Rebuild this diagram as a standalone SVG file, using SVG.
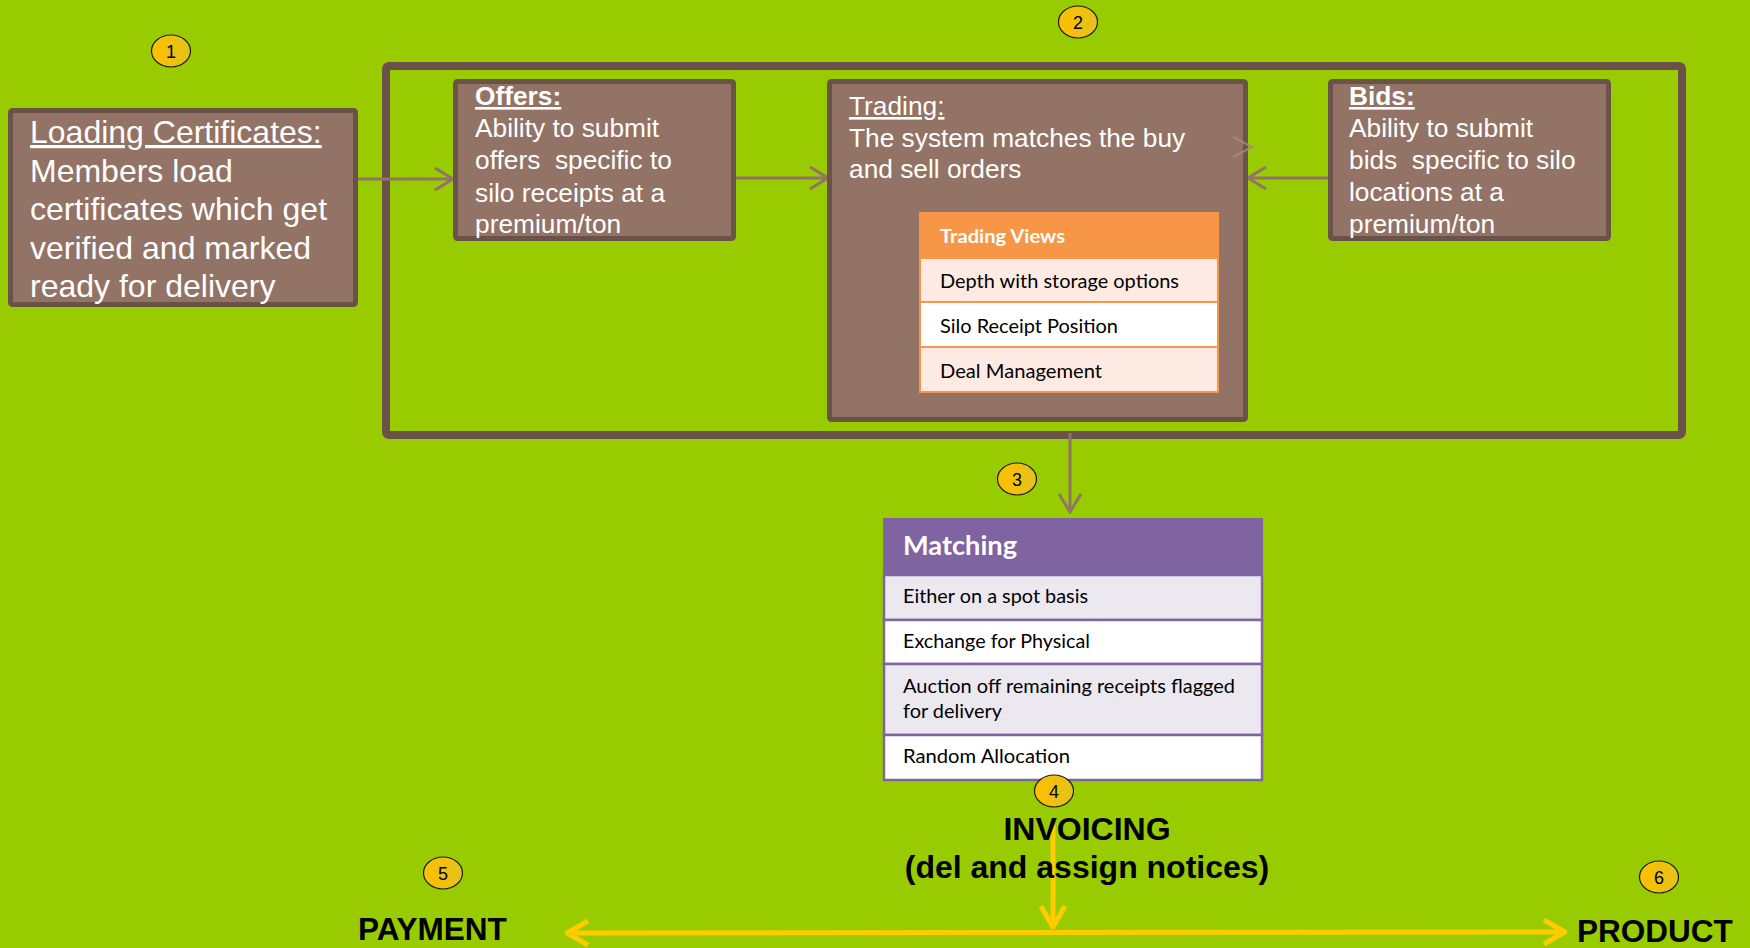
<svg xmlns="http://www.w3.org/2000/svg" width="1750" height="948" viewBox="0 0 1750 948">
<style>
.box{fill:#937365;stroke:#6b5249;stroke-width:5}
.frame{fill:none;stroke:#6b5249;stroke-width:8}
.bt{font-family:"Liberation Sans",Arial,sans-serif;font-size:26.3px;fill:#ffffff}
.bt32{font-family:"Liberation Sans",Arial,sans-serif;font-size:32px;fill:#ffffff}
text{text-decoration-skip-ink:none}
.badge{fill:url(#gold);stroke:#1a1a1a;stroke-width:1.2}
.bn{font-family:"Liberation Sans",Arial,sans-serif;font-size:18px;fill:#000;text-anchor:middle}
.conn{fill:none;stroke:#937365;stroke-width:3}
.yconn{fill:none;stroke:#ffcc00;stroke-width:5}
.cal{font-family:Lato,"Open Sans",sans-serif}
.tvrow{stroke:#f79646;stroke-width:2}
.mrow{stroke:#8064a2;stroke-width:2.5}
.big{font-family:"Liberation Sans",Arial,sans-serif;font-weight:bold;fill:#000}
</style>
<defs>
<linearGradient id="gold" x1="0" y1="0" x2="1" y2="0">
<stop offset="0" stop-color="#ffbf00"/>
<stop offset="1" stop-color="#e3c21c"/>
</linearGradient>
<marker id="ah" viewBox="-20 -13 22 26" refX="0" refY="0" markerWidth="22" markerHeight="26" markerUnits="userSpaceOnUse" orient="auto">
<path d="M-18,-11 L0,0 L-18,11" fill="none" stroke="#937365" stroke-width="3"/>
</marker>
<marker id="yh" viewBox="-24 -15 26 30" refX="0" refY="0" markerWidth="26" markerHeight="30" markerUnits="userSpaceOnUse" orient="auto-start-reverse">
<path d="M-21,-12 L0,0 L-21,12" fill="none" stroke="#ffcc00" stroke-width="5"/>
</marker>
</defs>
<rect x="0" y="0" width="1750" height="948" fill="#99cc00"/>

<g id="frame2">
<rect class="frame" x="386" y="66" width="1296" height="369" rx="3"/>
</g>

<g id="connectors">
<line class="conn" x1="340" y1="179" x2="453" y2="179" marker-end="url(#ah)"/>
<line class="conn" x1="736" y1="178" x2="828" y2="178" marker-end="url(#ah)"/>
<line class="conn" x1="1328" y1="178" x2="1248" y2="178" marker-end="url(#ah)"/>
<line class="conn" x1="1070" y1="433" x2="1070" y2="512" marker-end="url(#ah)"/>
<line class="yconn" x1="1053" y1="825" x2="1053" y2="927" marker-end="url(#yh)"/>
<line class="yconn" x1="567" y1="933" x2="1565" y2="932" marker-start="url(#yh)" marker-end="url(#yh)"/>
</g>

<g id="loading">
<rect class="box" x="10.5" y="110.5" width="345" height="194" rx="2"/>
<text class="bt32" x="30" y="143" text-decoration="underline">Loading Certificates:</text>
<text class="bt32" x="30" y="181.5">Members load</text>
<text class="bt32" x="30" y="220">certificates which get</text>
<text class="bt32" x="30" y="258.5">verified and marked</text>
<text class="bt32" x="30" y="297">ready for delivery</text>
</g>

<g id="offers">
<rect class="box" x="455.5" y="81.5" width="278" height="157" rx="2"/>
<text class="bt" x="475" y="105" font-weight="bold" text-decoration="underline">Offers:</text>
<text class="bt" x="475" y="137">Ability to submit</text>
<text class="bt" x="475" y="169" xml:space="preserve">offers  specific to</text>
<text class="bt" x="475" y="202">silo receipts at a</text>
<text class="bt" x="475" y="233">premium/ton</text>
</g>

<g id="trading">
<rect class="box" x="829.5" y="81.5" width="416" height="338" rx="2"/>
<text class="bt" x="849" y="115" text-decoration="underline">Trading:</text>
<text class="bt" x="849" y="147">The system matches the buy</text>
<text class="bt" x="849" y="178">and sell orders</text>
<path d="M1233,137 L1252,147 L1233,157" fill="none" stroke="#a98777" stroke-width="2.5" opacity="0.8"/>
</g>

<g id="tradingviews">
<rect x="919" y="212" width="300" height="46" fill="#f79646"/>
<rect class="tvrow" x="920" y="258" width="298" height="44" fill="#fdebe3"/>
<rect class="tvrow" x="920" y="302" width="298" height="45" fill="#ffffff"/>
<rect class="tvrow" x="920" y="347" width="298" height="45" fill="#fdebe3"/>
<text class="cal" x="940" y="243" font-size="19" font-weight="bold" fill="#ffffff" textLength="125" lengthAdjust="spacingAndGlyphs">Trading Views</text>
<text class="cal" x="940" y="288" font-size="19" fill="#000" textLength="239" lengthAdjust="spacingAndGlyphs">Depth with storage options</text>
<text class="cal" x="940" y="333" font-size="19" fill="#000" textLength="178" lengthAdjust="spacingAndGlyphs">Silo Receipt Position</text>
<text class="cal" x="940" y="378" font-size="19" fill="#000" textLength="162" lengthAdjust="spacingAndGlyphs">Deal Management</text>
</g>

<g id="bids">
<rect class="box" x="1330.5" y="81.5" width="278" height="157" rx="2"/>
<text class="bt" x="1349" y="105" font-weight="bold" text-decoration="underline">Bids:</text>
<text class="bt" x="1349" y="137">Ability to submit</text>
<text class="bt" x="1349" y="169" xml:space="preserve">bids  specific to silo</text>
<text class="bt" x="1349" y="201">locations at a</text>
<text class="bt" x="1349" y="233">premium/ton</text>
</g>

<g id="matching">
<rect x="883" y="518" width="380" height="57" fill="#8064a2"/>
<rect class="mrow" x="884" y="575" width="378" height="45" fill="#ebe8ef"/>
<rect class="mrow" x="884" y="620" width="378" height="44" fill="#ffffff"/>
<rect class="mrow" x="884" y="664" width="378" height="71" fill="#ebe8ef"/>
<rect class="mrow" x="884" y="735" width="378" height="45" fill="#ffffff"/>
<text class="cal" x="903" y="555" font-size="27" font-weight="bold" fill="#ffffff" textLength="114" lengthAdjust="spacingAndGlyphs">Matching</text>
<text class="cal" x="903" y="603" font-size="19" fill="#000" textLength="185" lengthAdjust="spacingAndGlyphs">Either on a spot basis</text>
<text class="cal" x="903" y="648" font-size="19" fill="#000" textLength="187" lengthAdjust="spacingAndGlyphs">Exchange for Physical</text>
<text class="cal" x="903" y="693" font-size="19" fill="#000" textLength="332" lengthAdjust="spacingAndGlyphs">Auction off remaining receipts flagged</text>
<text class="cal" x="903" y="718" font-size="19" fill="#000" textLength="99" lengthAdjust="spacingAndGlyphs">for delivery</text>
<text class="cal" x="903" y="763" font-size="19" fill="#000" textLength="167" lengthAdjust="spacingAndGlyphs">Random Allocation</text>
</g>

<g id="invoicing">
<text class="big" x="1087" y="840" font-size="32" text-anchor="middle">INVOICING</text>
<text class="big" x="1087" y="878" font-size="32" text-anchor="middle">(del and assign notices)</text>
</g>
<g id="payment">
<text class="big" x="358" y="940" font-size="31.5">PAYMENT</text>
</g>
<g id="product">
<text class="big" x="1577" y="942" font-size="31.5">PRODUCT</text>
</g>

<g id="badge1"><ellipse class="badge" cx="171" cy="51" rx="19.5" ry="16"/><text class="bn" x="171" y="57.5">1</text></g>
<g id="badge2"><ellipse class="badge" cx="1078" cy="22" rx="19.5" ry="16"/><text class="bn" x="1078" y="28.5">2</text></g>
<g id="badge3"><ellipse class="badge" cx="1017" cy="479" rx="19.5" ry="16"/><text class="bn" x="1017" y="485.5">3</text></g>
<g id="badge4"><ellipse class="badge" cx="1054" cy="791" rx="19.5" ry="16"/><text class="bn" x="1054" y="797.5">4</text></g>
<g id="badge5"><ellipse class="badge" cx="443" cy="873" rx="19.5" ry="16"/><text class="bn" x="443" y="879.5">5</text></g>
<g id="badge6"><ellipse class="badge" cx="1659" cy="877" rx="19.5" ry="16"/><text class="bn" x="1659" y="883.5">6</text></g>
</svg>
